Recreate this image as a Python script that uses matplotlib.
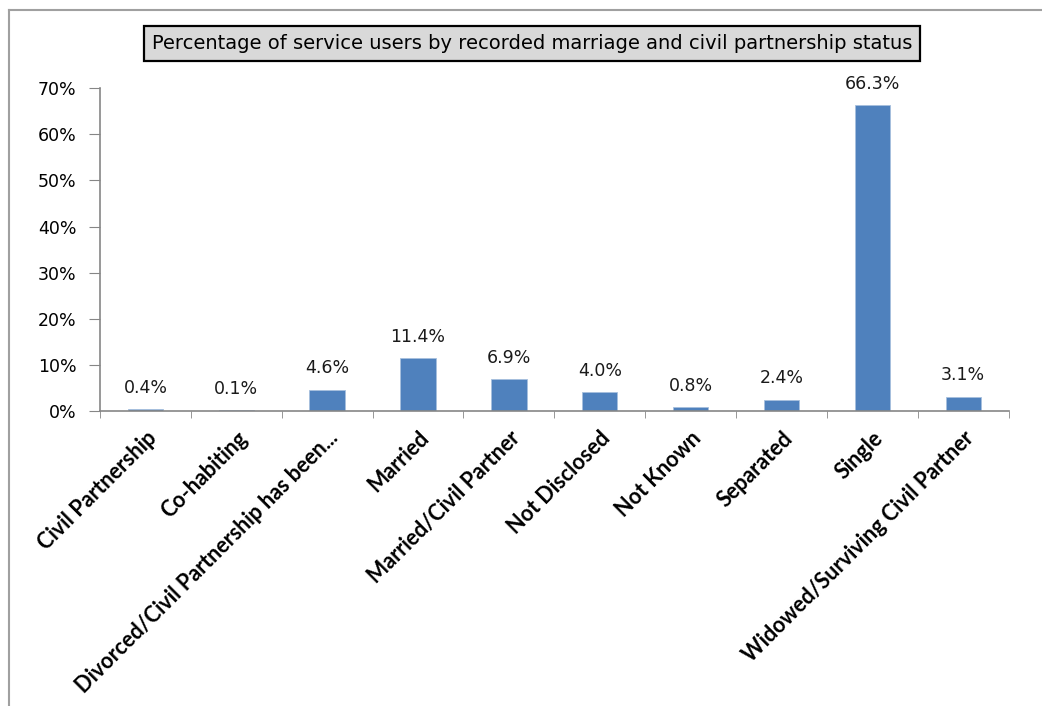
import matplotlib.pyplot as plt
from matplotlib.lines import Line2D
import numpy as np

# Marital / civil partnership status of service users (percent)
categories = [
    "Civil Partnership",
    "Co-habiting",
    "Divorced/Civil Partnership has been...",
    "Married",
    "Married/Civil Partner",
    "Not Disclosed",
    "Not Known",
    "Separated",
    "Single",
    "Widowed/Surviving Civil Partner",
]
percentages = [0.4, 0.1, 4.6, 11.4, 6.9, 4.0, 0.8, 2.4, 66.3, 3.1]
y_ticks = [0, 10, 20, 30, 40, 50, 60, 70]

bar_color = "#4F81BD"
axis_color = "#868686"
num_font = dict(fontsize=12.5, family="DejaVu Sans")

fig = plt.figure(figsize=(10.42, 7.06), dpi=100)
ax = fig.add_axes([0.096, 0.418, 0.872, 0.457])

x = np.arange(len(categories))
ax.bar(x, percentages, width=0.39, color=bar_color, edgecolor="#A7C0DE", linewidth=0.6)

for xi, v in zip(x, percentages):
    ax.annotate(f"{v:.1f}%", (xi, v), xytext=(0, 9), textcoords="offset points",
                ha="center", va="bottom", color="#1a1a1a", **num_font)

ax.set_xlim(-0.5, len(categories) - 0.5)
ax.set_ylim(0, 70)
ax.set_yticks(y_ticks)
ax.set_yticklabels([f"{t}%" for t in y_ticks], **num_font)

# category names between tick marks at the boundaries
ax.set_xticks(x)
ax.set_xticklabels(categories, rotation=45, ha="right", rotation_mode="anchor",
                   fontsize=15.5, family="Lato", fontweight="bold")
ax.tick_params(axis="x", which="major", length=0, pad=12)
ax.set_xticks(np.arange(-0.5, len(categories)), minor=True)
ax.tick_params(axis="x", which="minor", length=5, color=axis_color, direction="out")
ax.tick_params(axis="y", length=8, color=axis_color, pad=9)

for side in ("top", "right"):
    ax.spines[side].set_visible(False)
for side in ("left", "bottom"):
    ax.spines[side].set_color(axis_color)
    ax.spines[side].set_linewidth(1.2)

# boxed chart title
fig.text(0.511, 0.938, "Percentage of service users by recorded marriage and civil partnership status",
         ha="center", va="center", fontsize=14, family="DejaVu Sans",
         bbox=dict(boxstyle="square,pad=0.4", facecolor="#D9D9D9", edgecolor="#000000", linewidth=1.6))

# outer chart frame (left and top edges)
fig.add_artist(Line2D([9 / 1042, 9 / 1042], [0, 1 - 10 / 706], color="#A0A0A0", linewidth=1.5))
fig.add_artist(Line2D([9 / 1042, 1], [1 - 10 / 706, 1 - 10 / 706], color="#A0A0A0", linewidth=1.5))

fig.savefig("out.png", dpi=100)
plt.close(fig)
